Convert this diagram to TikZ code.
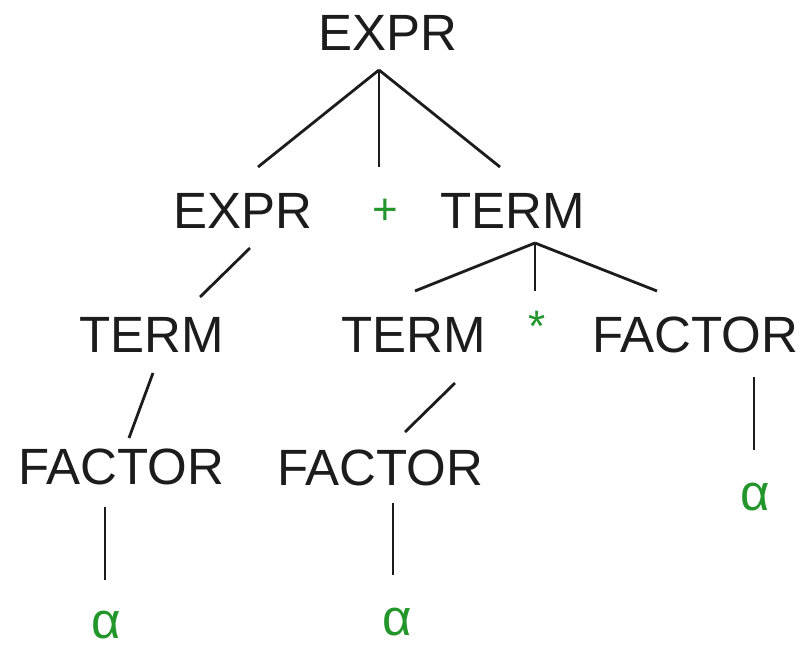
\documentclass[tikz,border=0pt]{standalone}
\usepackage{fontspec}
\setmainfont{Liberation Sans}
\definecolor{ink}{HTML}{1C1C1C}
\definecolor{leafgreen}{HTML}{22962A}
\begin{document}
\begin{tikzpicture}[x=1pt,y=-1pt,
  sym/.style={inner sep=0pt,outer sep=0pt,text=ink,font=\fontsize{51}{60}\selectfont},
  tok/.style={inner sep=0pt,outer sep=0pt,text=leafgreen,font=\fontsize{51}{60}\selectfont},
  op/.style={inner sep=0pt,outer sep=0pt,text=leafgreen,font=\fontsize{44}{48}\selectfont},
  edge/.style={draw=ink,line width=2.8pt}]
\useasboundingbox[fill=white] (0,0) rectangle (807,651);

% grammar symbols
\node[sym] (root) at (388,33)  {EXPR};
\node[sym] (e1)   at (243,211) {EXPR};
\node[op]  (plus) at (385,212) {+};
\node[sym] (t1)   at (513,211) {TERM};
\node[sym] (t2)   at (152,335) {TERM};
\node[sym] (t3)   at (414,335) {TERM};
\node[op]  (star) at (537,326) {*};
\node[sym] (f1)   at (695,335) {FACTOR};
\node[sym] (f2)   at (121,467) {FACTOR};
\node[sym] (f3)   at (380,468) {FACTOR};
\node[tok] (a1)   at (106,625) {α};
\node[tok] (a2)   at (397,622) {α};
\node[tok] (a3)   at (755,497) {α};

% branches
\draw[edge] ([shift={(-9,37)}]root.center) -- ([shift={(15,-44)}]e1.center);
\draw[edge] ([shift={(-9,37)}]root.center) -- ([shift={(-6,-45)}]plus.center);
\draw[edge] ([shift={(-9,37)}]root.center) -- ([shift={(-13,-44)}]t1.center);
\draw[edge] ([shift={(7,37)}]e1.center) -- ([shift={(48,-38)}]t2.center);
\draw[edge] ([shift={(22,32)}]t1.center) -- ([shift={(1,-44)}]t3.center);
\draw[edge] ([shift={(22,32)}]t1.center) -- ([shift={(-2,-35)}]star.center);
\draw[edge] ([shift={(22,32)}]t1.center) -- ([shift={(-38,-44)}]f1.center);
\draw[edge] ([shift={(1,38)}]t2.center) -- ([shift={(8,-29)}]f2.center);
\draw[edge] ([shift={(41,48)}]t3.center) -- ([shift={(25,-36)}]f3.center);
\draw[edge] ([shift={(-16,40)}]f2.center) -- ([shift={(-1,-45)}]a1.center);
\draw[edge] ([shift={(13,35)}]f3.center) -- ([shift={(-4,-47)}]a2.center);
\draw[edge] ([shift={(59,42)}]f1.center) -- ([shift={(-1,-47)}]a3.center);
\end{tikzpicture}
\end{document}
